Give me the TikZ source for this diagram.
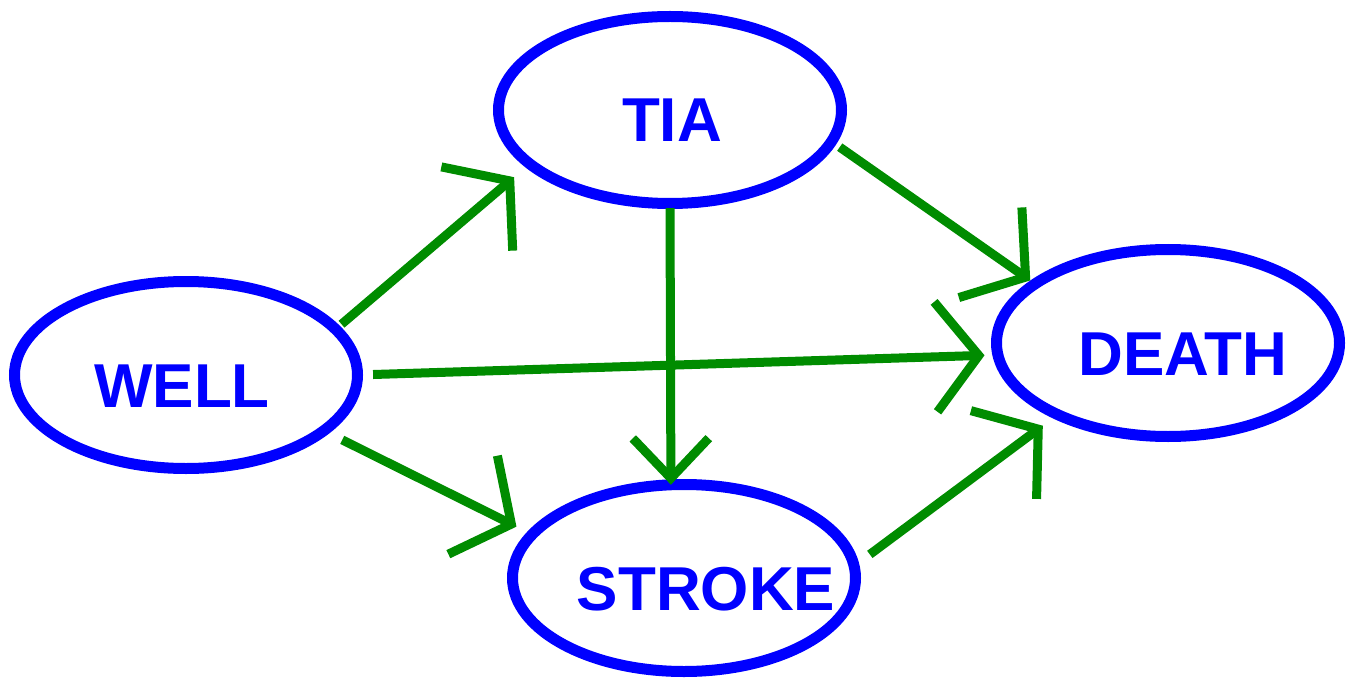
\documentclass[tikz,border=0pt]{standalone}
\usepackage{fontspec}
\usepackage{tikz}
\usetikzlibrary{shapes.geometric, arrows.meta}
\newfontfamily\statefont{Liberation Sans}
\definecolor{stateblue}{RGB}{0,0,255}
\definecolor{arrowgreen}{RGB}{0,140,0}
\tikzstyle{state}     = [ellipse,draw=stateblue,line width=5.5pt,text=stateblue,
                         minimum width=171.5pt,minimum height=93.5pt,inner sep=0pt,outer sep=0pt,
                         font=\statefont\fontsize{31}{37}\selectfont\bfseries,
                         text height=32pt,text depth=0pt]
\tikzstyle{arrow}     = [draw=arrowgreen,line width=4.5pt,
                         -{Straight Barb[length=21.5pt,width=55pt,line cap=butt]}]

\begin{document}
\begin{tikzpicture}[x=0.5pt,y=-0.5pt]
  \useasboundingbox (0,0) rectangle (1353,679);

  %put the states
  \foreach \nm/\x/\y/\dx/\txt in {well/186/375/-4/WELL, tia/670/110/2/TIA,
                                  death/1168/343/15/DEATH, stroke/684/578/22/STROKE}{
    \node[state] (\nm) at (\x,\y) {\makebox[0pt]{\hspace*{\dx pt}\txt}};
  }

  %transitions
  \draw[arrow,shorten <=3.9pt,shorten >=10.3pt] (well.17) -- (tia.201.9);
  \draw[arrow,shorten <=7.8pt,shorten >=6.7pt] (well.0) -- (death.184.7);
  \draw[arrow,shorten <=10.3pt,shorten >=8.8pt] (well.338.1) -- (stroke.164.1);
  \draw[arrow,-{Straight Barb[length=20pt,width=38pt,line cap=butt]},shorten <=2.3pt]
    (tia.270) -- (stroke.98.7);
  \draw[arrow,shorten <=5pt,shorten >=3pt] (tia.349.5) -- (death.156.3);
  \draw[arrow,shorten <=9.8pt,shorten >=9.3pt] (stroke.4.8) -- (death.213.3);
\end{tikzpicture}
\end{document}
